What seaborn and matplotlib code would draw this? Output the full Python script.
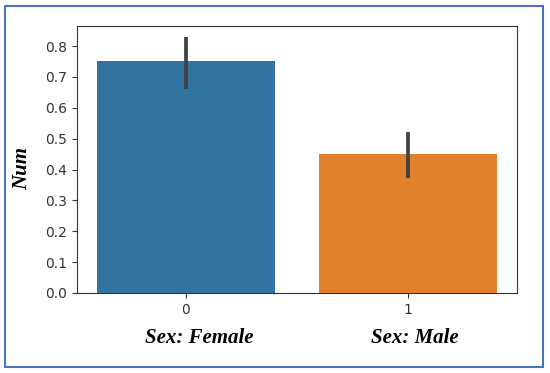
import numpy as np
import pandas as pd
import matplotlib
matplotlib.use("Agg")
import matplotlib.pyplot as plt
import seaborn as sns
from matplotlib.patches import Rectangle

# values
sex = [0, 1]
num_mean = [0.752, 0.450]
ci_low = [0.662, 0.372]
ci_high = [0.828, 0.520]
sex_names = ["Sex: Female", "Sex: Male"]

df = pd.DataFrame({"Sex": sex, "Num": num_mean})

fig = plt.figure(figsize=(5.5, 3.73), dpi=100)
ax = fig.add_axes([77 / 550, 1 - 293 / 373, 440 / 550, 267 / 373])

sns.barplot(data=df, x="Sex", y="Num", hue="Sex", palette=["#3274a1", "#e1812c"],
            saturation=1, legend=False, errorbar=None, ax=ax)
ax.vlines(sex, ci_low, ci_high, color="#424242", linewidth=2.7)
ax.set_ylim(0, 0.865)
ax.set_yticks(np.arange(0, 0.81, 0.1))
ax.set_xlabel("")
ax.set_ylabel("")
ax.tick_params(colors="#333333", labelcolor="#333333")
for s in ax.spines.values():
    s.set_color("#333333")

serif = dict(family=["Liberation Serif", "DejaVu Serif"], weight="bold", style="italic")
fig.text(22 / 550, 1 - 168 / 373, "Num", rotation=90, ha="center", va="center",
         fontsize=15, **serif)
for i, name in enumerate(sex_names):
    x_px = [199, 415][i]
    fig.text(x_px / 550, 1 - 338 / 373, name, ha="center", va="center",
             fontsize=15, **serif)

# blue frame round the whole picture
fig.patches.append(Rectangle((5 / 550, 6 / 373), 538 / 550, 361 / 373,
                             transform=fig.transFigure, fill=False,
                             edgecolor="#4a72c0", linewidth=1.5))

fig.savefig("out.png", dpi=100)
